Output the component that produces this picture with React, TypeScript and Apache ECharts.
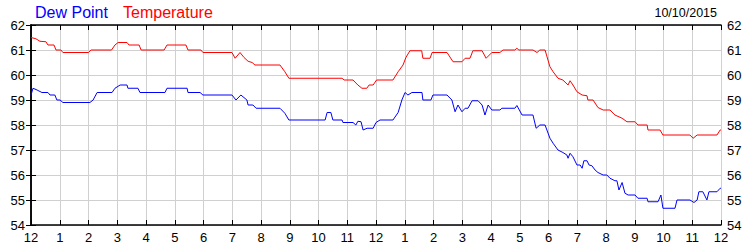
import React, { useEffect, useRef } from "react";
import * as echarts from "echarts";

const hourLabels = [
  "12", "1", "2", "3", "4", "5", "6", "7", "8", "9", "10", "11",
  "12", "1", "2", "3", "4", "5", "6", "7", "8", "9", "10", "11", "12",
];

const yTicks = [54, 55, 56, 57, 58, 59, 60, 61, 62];

const seriesNames = ["Dew Point", "Temperature"];
const dateLabel = "10/10/2015";

// [hour of day, °F]
const temperature: [number, number][] = [
  [0, 61.5], [0.17, 61.45], [0.31, 61.35], [0.52, 61.33], [0.59, 61.2], [0.8, 61.2],
  [0.87, 61.0], [1.04, 61.0], [1.11, 60.9], [2.0, 60.9], [2.09, 61.0], [2.8, 61.0],
  [2.92, 61.2], [3.03, 61.3], [3.34, 61.3], [3.41, 61.2], [3.76, 61.2], [3.83, 61.0],
  [4.63, 61.0], [4.73, 61.2], [5.39, 61.2], [5.46, 61.0], [5.91, 61.0], [5.98, 60.9],
  [6.99, 60.9], [7.1, 60.67], [7.27, 60.9], [7.41, 60.7], [7.55, 60.55], [7.69, 60.5],
  [7.79, 60.4], [8.66, 60.4], [8.83, 60.13], [8.97, 59.87], [10.82, 59.87], [10.89, 59.8],
  [11.2, 59.8], [11.37, 59.6], [11.51, 59.47], [11.68, 59.47], [11.76, 59.6], [11.9, 59.6],
  [12.02, 59.8], [12.59, 59.8], [12.77, 60.13], [12.94, 60.4], [13.04, 60.7], [13.18, 60.97],
  [13.59, 60.97], [13.63, 60.67], [13.88, 60.67], [13.95, 60.9], [14.47, 60.9], [14.68, 60.53],
  [14.99, 60.53], [15.1, 60.67], [15.27, 60.67], [15.37, 60.97], [15.69, 60.97], [15.83, 60.67],
  [16.03, 60.9], [16.31, 60.9], [16.42, 61.0], [16.83, 61.0], [16.9, 61.07], [16.97, 61.0],
  [17.46, 61.0], [17.6, 60.9], [17.7, 61.0], [17.88, 61.0], [18.05, 60.33], [18.16, 60.13],
  [18.33, 59.87], [18.5, 59.8], [18.68, 59.6], [18.75, 59.77], [18.85, 59.6], [18.99, 59.33],
  [19.17, 59.2], [19.34, 59.17], [19.37, 59.0], [19.55, 59.0], [19.72, 58.7], [19.9, 58.6],
  [20.14, 58.6], [20.31, 58.4], [20.56, 58.27], [20.73, 58.13], [21.01, 58.13], [21.11, 58.0],
  [21.43, 58.0], [21.46, 57.8], [21.88, 57.8], [21.98, 57.6], [22.92, 57.6], [23.03, 57.47],
  [23.17, 57.6], [23.86, 57.6], [23.97, 57.8], [24, 57.8],
];

const dewPoint: [number, number][] = [
  [0, 59.2], [0.07, 59.47], [0.21, 59.4], [0.38, 59.3], [0.59, 59.3], [0.66, 59.2],
  [0.83, 59.2], [0.9, 59.0], [1.01, 59.0], [1.11, 58.9], [2.05, 58.9], [2.16, 59.0],
  [2.3, 59.3], [2.82, 59.3], [2.92, 59.47], [3.1, 59.6], [3.34, 59.6], [3.37, 59.47],
  [3.72, 59.47], [3.79, 59.3], [4.66, 59.3], [4.73, 59.47], [5.43, 59.47], [5.46, 59.3],
  [5.88, 59.3], [5.98, 59.2], [6.99, 59.2], [7.13, 59.0], [7.3, 59.2], [7.51, 59.0],
  [7.55, 58.8], [7.72, 58.8], [7.83, 58.67], [8.66, 58.67], [8.83, 58.47], [8.97, 58.2],
  [10.23, 58.2], [10.3, 58.5], [10.43, 58.5], [10.5, 58.2], [10.82, 58.2], [10.85, 58.1],
  [11.2, 58.1], [11.3, 58.0], [11.37, 58.15], [11.48, 58.13], [11.55, 57.8], [11.69, 57.87],
  [11.9, 57.87], [12.0, 58.1], [12.14, 58.2], [12.59, 58.2], [12.77, 58.5], [12.9, 59.0],
  [13.01, 59.3], [13.11, 59.2], [13.25, 59.3], [13.6, 59.3], [13.63, 59.0], [13.91, 59.0],
  [13.98, 59.2], [14.47, 59.2], [14.64, 59.0], [14.75, 58.53], [14.85, 58.8], [14.99, 58.53],
  [15.1, 58.67], [15.2, 58.67], [15.34, 58.97], [15.55, 58.97], [15.69, 58.8], [15.79, 58.4],
  [15.9, 58.8], [16.03, 58.6], [16.31, 58.6], [16.38, 58.67], [16.83, 58.67], [16.9, 58.78],
  [17.08, 58.4], [17.46, 58.4], [17.57, 57.87], [17.7, 58.0], [17.88, 58.0], [18.05, 57.47],
  [18.16, 57.27], [18.33, 57.0], [18.5, 56.9], [18.64, 56.8], [18.68, 56.67], [18.75, 56.87],
  [18.85, 56.73], [18.99, 56.4], [19.1, 56.4], [19.17, 56.27], [19.23, 56.57], [19.34, 56.57],
  [19.41, 56.4], [19.51, 56.37], [19.62, 56.2], [19.72, 56.1], [19.9, 56.0], [20.03, 56.0],
  [20.14, 55.87], [20.31, 55.77], [20.38, 55.77], [20.45, 55.4], [20.56, 55.7], [20.66, 55.27],
  [20.77, 55.2], [21.01, 55.2], [21.11, 55.07], [21.43, 55.07], [21.46, 54.93], [21.81, 54.93],
  [21.91, 55.2], [21.98, 54.67], [22.4, 54.67], [22.47, 55.0], [22.92, 55.0], [23.06, 54.9],
  [23.17, 55.0], [23.23, 55.33], [23.37, 55.33], [23.51, 55.0], [23.58, 55.33], [23.86, 55.33],
  [23.97, 55.47], [24, 55.47],
];

const FONT = "'Liberation Sans', Arial, sans-serif";

export default function App() {
  const ref = useRef<HTMLDivElement>(null);

  useEffect(() => {
    if (!ref.current) return;
    const chart = echarts.init(ref.current, undefined, { renderer: "svg" });
    const axisLine = { show: true, lineStyle: { color: "#000", width: 1.5 } };
    const tick = { show: true, inside: true, length: 5, lineStyle: { color: "#000", width: 1 } };
    const label = { color: "#000", fontSize: 13, fontFamily: FONT, margin: 6 };
    chart.setOption({
      animation: false,
      backgroundColor: "#fff",
      grid: { left: 31, right: 29, top: 25, bottom: 25, containLabel: false },
      graphic: [
        {
          type: "text", left: 35, top: 4,
          style: { text: seriesNames[0], fill: "#0000ff", fontSize: 16, fontFamily: FONT },
        },
        {
          type: "text", left: 123, top: 4,
          style: { text: seriesNames[1], fill: "#ff0000", fontSize: 16, fontFamily: FONT },
        },
        {
          type: "text", right: 33, top: 6,
          style: { text: dateLabel, fill: "#000", fontSize: 12.5, fontFamily: FONT },
        },
      ],
      xAxis: [
        {
          type: "value", position: "bottom", min: 0, max: 24, interval: 1,
          axisLine, axisTick: tick,
          axisLabel: { ...label, formatter: (v: number) => hourLabels[Math.round(v)] ?? "" },
          splitLine: { show: true, lineStyle: { color: "#d0d0d0", width: 1 } },
        },
        {
          type: "value", position: "top", min: 0, max: 24, interval: 1,
          axisLine, axisTick: tick, axisLabel: { show: false }, splitLine: { show: false },
        },
      ],
      yAxis: [
        {
          type: "value", position: "left", min: yTicks[0], max: yTicks[yTicks.length - 1], interval: 1,
          axisLine, axisTick: tick, axisLabel: label,
          splitLine: { show: true, lineStyle: { color: "#d0d0d0", width: 1 } },
        },
        {
          type: "value", position: "right", min: yTicks[0], max: yTicks[yTicks.length - 1], interval: 1,
          axisLine, axisTick: tick, axisLabel: label, splitLine: { show: false },
        },
      ],
      series: [
        {
          name: seriesNames[0], type: "line", data: dewPoint, showSymbol: false,
          lineStyle: { color: "#0000ff", width: 1 }, itemStyle: { color: "#0000ff" },
          xAxisIndex: 0, yAxisIndex: 0, z: 3,
        },
        {
          name: seriesNames[1], type: "line", data: temperature, showSymbol: false,
          lineStyle: { color: "#ff0000", width: 1 }, itemStyle: { color: "#ff0000" },
          xAxisIndex: 0, yAxisIndex: 0, z: 3,
        },
      ],
    });
    return () => chart.dispose();
  }, []);

  return (
    <div
      ref={ref}
      style={{ position: "fixed", left: 0, top: 0, width: 750, height: 250, background: "#fff" }}
    />
  );
}
